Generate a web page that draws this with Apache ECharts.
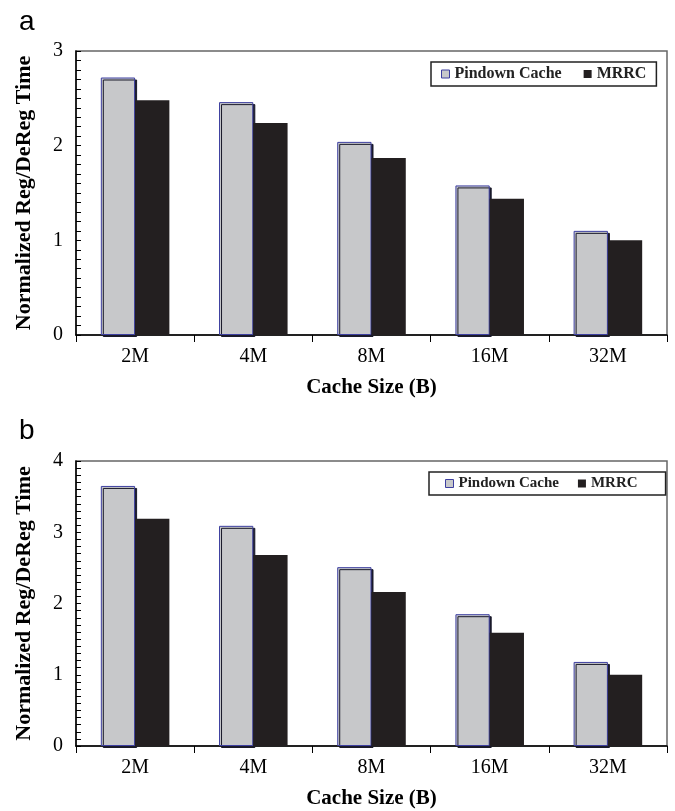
<!DOCTYPE html>
<html>
<head>
<meta charset="utf-8">
<script src="https://cdn.jsdelivr.net/npm/echarts@6/dist/echarts.min.js"></script>
<style>
html,body{margin:0;padding:0;background:#fff;}
#c{width:675px;height:811px;}
</style>
</head>
<body>
<div id="c"></div>
<script>
const categories = ['2M', '4M', '8M', '16M', '32M'];
const seriesNames = ['Pindown Cache', 'MRRC'];
const pindownA = [2.72, 2.46, 2.04, 1.58, 1.10];
const mrrcA = [2.48, 2.24, 1.87, 1.44, 1.00];
const pindownB = [3.65, 3.09, 2.51, 1.85, 1.18];
const mrrcB = [3.19, 2.68, 2.16, 1.59, 1.00];
const yMaxA = 3;
const yMaxB = 4;
const yTickStep = 0.1;
const xTitle = 'Cache Size (B)';
const yTitle = 'Normalized Reg/DeReg Time';
const panelLabels = ['a', 'b'];

const serif = 'Liberation Serif, Times New Roman, serif';
const grayStyle = {
  color: '#c7c8ca', borderColor: '#3d3fa0', borderWidth: 1,
  shadowColor: '#1a1a2a', shadowBlur: 0, shadowOffsetX: 2, shadowOffsetY: 2
};
const blackStyle = { color: '#231f20' };

function xAxisFor(gi) {
  return {
    type: 'category', gridIndex: gi, data: categories, position: 'bottom',
    axisLine: { show: true, onZero: false, lineStyle: { color: '#000', width: 1.5 } },
    axisTick: { show: true, length: 7, lineStyle: { color: '#000', width: 1 } },
    axisLabel: { color: '#000', fontFamily: serif, fontSize: 20, margin: 12 },
    name: xTitle, nameLocation: 'middle', nameGap: 42,
    nameTextStyle: { color: '#000', fontFamily: serif, fontSize: 21, fontWeight: 'bold' }
  };
}
function yAxisFor(gi, max) {
  return {
    type: 'value', gridIndex: gi, min: 0, max: max, interval: 1, position: 'left',
    axisLine: { show: true, onZero: false, lineStyle: { color: '#000', width: 1.5 } },
    axisTick: { show: false },
    splitLine: { show: false },
    axisLabel: { show: true, color: '#000', fontFamily: serif, fontSize: 20, margin: 13 },
    name: yTitle, nameLocation: 'middle', nameGap: 41,
    nameTextStyle: { color: '#000', fontFamily: serif, fontSize: 22, fontWeight: 'bold' },
    z: 3
  };
}
// a narrow strip grid whose split lines form the inward 0.1 ticks on the y axis
function tickXAxisFor(gi) {
  return { type: 'value', gridIndex: gi, min: 0, max: 1, show: false };
}
function tickYAxisFor(gi, max) {
  return {
    type: 'value', gridIndex: gi, min: 0, max: max, interval: yTickStep,
    axisLine: { show: false }, axisTick: { show: false }, axisLabel: { show: false },
    splitLine: { show: true, lineStyle: { color: '#000', width: 1, type: 'solid' } }
  };
}
function legendFor(left, top, fs, pad, gap) {
  return {
    show: true, orient: 'horizontal', left: left, top: top,
    data: [
      { name: seriesNames[0], itemStyle: { color: '#c7c8ca', borderColor: '#3d3fa0', borderWidth: 1, shadowColor: 'transparent', shadowOffsetX: 0, shadowOffsetY: 0 } },
      { name: seriesNames[1], itemStyle: { color: '#231f20' } }
    ],
    icon: 'rect', itemWidth: 8, itemHeight: 8, itemGap: gap,
    borderColor: '#222', borderWidth: 1.5, padding: pad, backgroundColor: '#fff',
    textStyle: { fontFamily: serif, fontSize: fs, fontWeight: 'bold', color: '#222' },
    selectedMode: false
  };
}
function barSeries(name, gi, data, style) {
  return {
    name: name, type: 'bar', xAxisIndex: gi, yAxisIndex: gi, data: data,
    barWidth: '29%', barGap: '0%', itemStyle: style, emphasis: { disabled: true },
    animation: false
  };
}

const chart = echarts.init(document.getElementById('c'), null, { renderer: 'canvas' });
chart.setOption({
  animation: false,
  backgroundColor: '#fff',
  title: [
    { text: panelLabels[0], left: 14, top: 3, textStyle: { fontFamily: 'Liberation Sans, Arial, sans-serif', fontSize: 28, fontWeight: 'normal', color: '#000' } },
    { text: panelLabels[1], left: 14, top: 412, textStyle: { fontFamily: 'Liberation Sans, Arial, sans-serif', fontSize: 28, fontWeight: 'normal', color: '#000' } }
  ],
  grid: [
    { left: 76, right: 8, top: 51, height: 284, show: true, borderColor: '#666', borderWidth: 1.5, backgroundColor: 'rgba(0,0,0,0)' },
    { left: 76, right: 8, top: 461, height: 285, show: true, borderColor: '#666', borderWidth: 1.5, backgroundColor: 'rgba(0,0,0,0)' },
    { left: 76, width: 5, top: 51, height: 284, show: false },
    { left: 76, width: 5, top: 461, height: 285, show: false }
  ],
  legend: [
    legendFor(431, 62, 16, [4, 10, 4, 10], 22),
    legendFor(429, 472, 15, [4, 28, 4, 16], 19)
  ],
  xAxis: [xAxisFor(0), xAxisFor(1), tickXAxisFor(2), tickXAxisFor(3)],
  yAxis: [yAxisFor(0, yMaxA), yAxisFor(1, yMaxB), tickYAxisFor(2, yMaxA), tickYAxisFor(3, yMaxB)],
  series: [
    barSeries(seriesNames[0], 0, pindownA, grayStyle),
    barSeries(seriesNames[1], 0, mrrcA, blackStyle),
    barSeries(seriesNames[0], 1, pindownB, grayStyle),
    barSeries(seriesNames[1], 1, mrrcB, blackStyle)
  ]
});
</script>
</body>
</html>
